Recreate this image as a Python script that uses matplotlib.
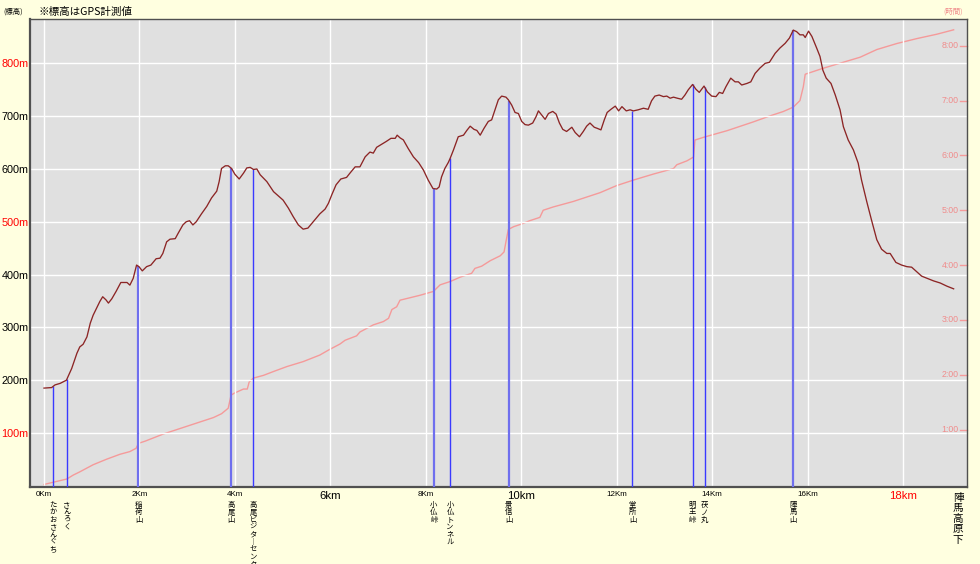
import numpy as np
import matplotlib
matplotlib.use('Agg')
import matplotlib.pyplot as plt
from matplotlib.transforms import blended_transform_factory

# ---------------- data ----------------
prof_km = [0.00, 0.16, 0.23, 0.34, 0.47, 0.58, 0.69, 0.75, 0.82, 0.90, 0.97, 1.03, 1.10, 1.17, 1.23, 1.30,
           1.35, 1.42, 1.51, 1.61, 1.74, 1.80, 1.87, 1.94, 1.99, 2.06, 2.15, 2.24, 2.35, 2.43, 2.49, 2.57,
           2.64, 2.75, 2.81, 2.91, 2.98, 3.05, 3.12, 3.19, 3.30, 3.41, 3.51, 3.62, 3.67, 3.72, 3.80, 3.86,
           3.93, 4.00, 4.09, 4.18, 4.25, 4.32, 4.39, 4.46, 4.53, 4.67, 4.81, 4.91, 5.01, 5.12, 5.22, 5.33,
           5.43, 5.53, 5.64, 5.78, 5.89, 5.96, 6.03, 6.12, 6.22, 6.34, 6.41, 6.52, 6.62, 6.73, 6.83, 6.90,
           6.97, 7.08, 7.17, 7.27, 7.36, 7.40, 7.46, 7.53, 7.63, 7.74, 7.85, 7.95, 8.05, 8.15, 8.23, 8.28,
           8.33, 8.40, 8.47, 8.51, 8.58, 8.68, 8.79, 8.86, 8.93, 9.01, 9.07, 9.14, 9.22, 9.31, 9.38, 9.45,
           9.52, 9.59, 9.68, 9.73, 9.80, 9.87, 9.94, 10.01, 10.08, 10.15, 10.24, 10.31, 10.36, 10.43, 10.50,
           10.57, 10.66, 10.73, 10.80, 10.87, 10.95, 11.06, 11.13, 11.22, 11.30, 11.37, 11.44, 11.53, 11.59,
           11.67, 11.74, 11.80, 11.88, 11.97, 12.04, 12.11, 12.20, 12.28, 12.35, 12.45, 12.56, 12.66, 12.73,
           12.80, 12.89, 12.98, 13.05, 13.12, 13.19, 13.27, 13.36, 13.43, 13.50, 13.59, 13.66, 13.73, 13.83,
           13.90, 13.99, 14.08, 14.15, 14.22, 14.29, 14.39, 14.48, 14.55, 14.62, 14.73, 14.81, 14.90, 15.00,
           15.11, 15.20, 15.32, 15.42, 15.53, 15.62, 15.70, 15.77, 15.84, 15.91, 15.95, 16.02, 16.09, 16.19,
           16.26, 16.32, 16.39, 16.49, 16.58, 16.68, 16.75, 16.85, 16.96, 17.06, 17.13, 17.24, 17.34, 17.45,
           17.55, 17.66, 17.73, 17.85, 17.97, 18.08, 18.18, 18.29, 18.39, 18.50, 18.64, 18.78, 18.92, 19.06]
prof_m = [185, 186, 191, 194, 200, 222, 251, 263, 268, 282, 308, 323, 336, 349, 358, 352,
          346, 354, 368, 385, 385, 380, 393, 418, 415, 407, 415, 418, 430, 431, 440, 462,
          467, 468, 478, 494, 500, 502, 494, 500, 515, 529, 545, 558, 576, 601, 606, 606,
          601, 590, 581, 592, 602, 603, 599, 600, 589, 576, 557, 549, 541, 526, 510, 494,
          486, 488, 500, 515, 524, 535, 551, 570, 581, 584, 592, 604, 604, 623, 632, 630,
          641, 647, 652, 658, 658, 664, 659, 655, 639, 623, 612, 598, 579, 563, 562, 566,
          585, 601, 612, 620, 636, 661, 664, 673, 681, 675, 673, 664, 677, 690, 693, 712,
          731, 738, 736, 731, 721, 707, 705, 690, 684, 683, 687, 699, 710, 702, 694,
          705, 709, 704, 687, 675, 671, 679, 669, 661, 671, 681, 687, 679, 677,
          674, 693, 707, 713, 719, 710, 718, 710, 712, 710, 712, 715, 713, 729,
          738, 740, 737, 738, 734, 736, 734, 732, 740, 750, 760, 751, 745, 757,
          746, 738, 737, 745, 743, 756, 772, 765, 765, 759, 762, 765, 781, 791,
          800, 802, 819, 829, 838, 848, 863, 860, 854, 854, 849, 861, 851, 829,
          813, 787, 772, 762, 740, 712, 680, 655, 636, 611, 579, 538, 503, 466,
          448, 440, 440, 423, 418, 415, 414, 405, 397, 393, 388, 384, 378, 373]

time_km = [0.00, 0.19, 0.48, 0.61, 0.75, 1.03, 1.31, 1.59, 1.80, 1.93, 1.98, 2.12, 2.50, 2.85, 3.20, 3.55,
           3.72, 3.86, 3.92, 4.00, 4.18, 4.26, 4.30, 4.39, 4.60, 4.81, 5.09, 5.43, 5.78, 5.96, 6.20, 6.31,
           6.55, 6.62, 6.90, 7.11, 7.22, 7.29, 7.39, 7.46, 7.60, 7.88, 8.16, 8.30, 8.51, 8.72, 8.96, 9.03,
           9.17, 9.35, 9.56, 9.64, 9.70, 9.73, 9.84, 10.01, 10.18, 10.39, 10.46, 10.67, 11.09, 11.65, 12.00,
           12.35, 12.77, 13.19, 13.26, 13.47, 13.61, 13.64, 13.82, 14.31, 14.86, 15.21, 15.49, 15.70, 15.84,
           15.91, 15.95, 16.33, 17.10, 17.45, 17.87, 18.29, 18.71, 19.06]
time_h = [0.00, 0.04, 0.10, 0.17, 0.23, 0.36, 0.46, 0.55, 0.60, 0.66, 0.75, 0.79, 0.92, 1.02, 1.12, 1.22,
          1.29, 1.39, 1.63, 1.67, 1.74, 1.74, 1.87, 1.94, 1.99, 2.06, 2.15, 2.24, 2.36, 2.45, 2.56, 2.63,
          2.71, 2.78, 2.91, 2.97, 3.03, 3.19, 3.24, 3.36, 3.39, 3.45, 3.52, 3.64, 3.70, 3.78, 3.85, 3.94,
          3.98, 4.08, 4.17, 4.24, 4.52, 4.65, 4.70, 4.75, 4.81, 4.87, 5.00, 5.06, 5.16, 5.32, 5.45,
          5.55, 5.66, 5.76, 5.83, 5.90, 5.97, 6.28, 6.33, 6.45, 6.61, 6.72, 6.80, 6.88, 7.00,
          7.25, 7.48, 7.59, 7.79, 7.93, 8.04, 8.13, 8.21, 8.29]

wp_names = ['たかおさんぐち', 'さんろく', '稲荷山', '高尾山', '高尾ビジターセンター', '小仏峠',
            '小仏トンネル', '景信山', '堂所山', '明王峠', '茯ノ丸', '陣馬山']
wp_km = [0.19, 0.48, 1.98, 3.92, 4.39, 8.17, 8.51, 9.74, 12.33, 13.59, 13.84, 15.70]
end_name = '陣馬高原下'

km_ticks = [0, 2, 4, 6, 8, 10, 12, 14, 16, 18]
km_labels = ['0Km', '2Km', '4Km', '6km', '8Km', '10km', '12Km', '14Km', '16Km', '18km']
elev_ticks = [100, 200, 300, 400, 500, 600, 700, 800]
elev_labels = ['100m', '200m', '300m', '400m', '500m', '600m', '700m', '800m']
hour_ticks = [1, 2, 3, 4, 5, 6, 7, 8]
hour_labels = ['1:00', '2:00', '3:00', '4:00', '5:00', '6:00', '7:00', '8:00']

# ---------------- styling ----------------
W, H = 980, 564
BG = '#FFFFE0'
PLOT_BG = '#E0E0E0'
ELEV_C = '#8C2525'
TIME_C = '#F59A9A'
TIME_TXT = '#F08C8C'
CJK = ['Noto Sans CJK JP', 'DejaVu Sans']
NUM = ['Liberation Sans Narrow', 'Liberation Sans', 'DejaVu Sans']
plt.rcParams['font.family'] = CJK

fig = plt.figure(figsize=(W / 100, H / 100), dpi=100, facecolor=BG)
L, R, T, B = 30, 967, 19, 487
ax = fig.add_axes([L / W, 1 - B / H, (R - L) / W, (B - T) / H])
ax.set_facecolor(PLOT_BG)
ax.set_xlim(-0.293, 19.34)
ax.set_ylim(-2.3, 884)

for s in ax.spines.values():
    s.set_color('#505050')
    s.set_linewidth(1.0)
ax.spines['left'].set_linewidth(1.6)
ax.spines['bottom'].set_linewidth(1.6)

ax.set_xticks(km_ticks)
ax.set_xticklabels([])
ax.set_yticks(elev_ticks)
ax.set_yticklabels(elev_labels, fontfamily=NUM, fontsize=7.8)
ax.tick_params(axis='both', length=0, pad=1)
red_set = {'800m', '500m', '100m'}
for lab in ax.get_yticklabels():
    lab.set_color('#FF0000' if lab.get_text() in red_set else '#000000')
ax.grid(True, color='white', linewidth=1.0)
ax.set_axisbelow(True)

# time axis
ax2 = ax.twinx()
ax2.set_ylim(-0.046, 8.487)
ax2.set_yticks([])
for s in ax2.spines.values():
    s.set_visible(False)
ax2.plot(time_km, time_h, color=TIME_C, linewidth=1.0, zorder=2)

# waypoint lines
thick = {'稲荷山', '高尾山', '小仏峠', '景信山', '陣馬山'}
wp_elev = np.interp(wp_km, prof_km, prof_m)
for name, k, e in zip(wp_names, wp_km, wp_elev):
    if name in thick:
        ax.plot([k, k], [-2.3, e], color='#6F6FEE', linewidth=1.6, zorder=3, solid_capstyle='butt')
    else:
        ax.plot([k, k], [-2.3, e], color='#3A3AFF', linewidth=1.0, zorder=3, solid_capstyle='butt')
ax.set_zorder(ax2.get_zorder() + 1)
ax.patch.set_visible(False)
ax2.patch.set_visible(True)
ax2.patch.set_facecolor(PLOT_BG)
ax.plot(prof_km, prof_m, color=ELEV_C, linewidth=0.95, zorder=4)

# hour tick marks and labels (inside, right)
trh = blended_transform_factory(ax.transAxes, ax2.transData)
x_tick0 = 1 - 7 / (R - L)
x_lab = 1 - 17 / (R - L)
for h, lab in zip(hour_ticks, hour_labels):
    ax2.plot([x_tick0, 1.0], [h, h], color=TIME_C, linewidth=1.0, transform=trh, clip_on=False)
    ax2.text(x_lab, h, lab, transform=trh, ha='center', va='center', color=TIME_TXT,
             fontsize=6.3, fontfamily=NUM)

# x labels
trx = blended_transform_factory(ax.transData, fig.transFigure)
big = {'6km', '10km', '18km'}
for k, lab in zip(km_ticks, km_labels):
    if lab in big:
        col = '#FF0000' if lab == '18km' else '#000000'
        ax.text(k, 1 - 496 / H, lab, transform=trx, ha='center', va='center', fontsize=8.2,
                color=col, fontfamily=NUM, clip_on=False)
    else:
        ax.text(k, 1 - 494 / H, lab, transform=trx, ha='center', va='center', fontsize=5.8,
                color='#000000', fontfamily=NUM, clip_on=False)

# vertical waypoint names
pitch = 7.4
for name, k in zip(wp_names, wp_km):
    for i, ch in enumerate(name):
        if ch == 'ー':
            ch = '︱'
        ax.text(k, 1 - (505 + i * pitch) / H, ch, transform=trx, ha='center', va='center',
                fontsize=5.3, color='#000000', fontfamily=CJK, clip_on=False)

# end-point name
for i, ch in enumerate(end_name):
    fig.text(958 / W, 1 - (498 + i * 10.4) / H, ch, ha='center', va='center', fontsize=7.6,
             color='#000000', fontfamily=CJK)

# header texts
fig.text(3 / W, 1 - 12 / H, '(標高)', ha='left', va='center', fontsize=5.3, color='#000000')
fig.text(38 / W, 1 - 12 / H, '※標高はGPS計測値', ha='left', va='center', fontsize=7.6, color='#000000')
fig.text(953 / W, 1 - 12 / H, '(時間)', ha='center', va='center', fontsize=5.3, color=TIME_TXT)

fig.savefig('out.png', dpi=100, facecolor=BG)
